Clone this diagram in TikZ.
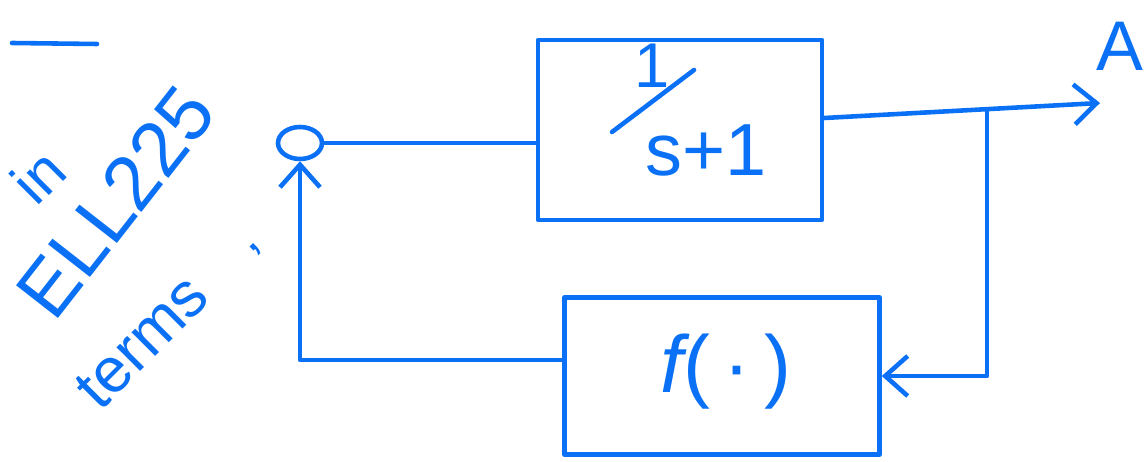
\documentclass[tikz,border=0pt]{standalone}
\usepackage{fontspec}
\setsansfont{Liberation Sans}
\usetikzlibrary{arrows.meta,shapes.geometric}
\definecolor{ink}{RGB}{10,112,245}
\begin{document}
\begin{tikzpicture}[x=0.02cm,y=-0.02cm,
  pen/.style={draw=ink, line width=2.6pt, line cap=round, line join=round},
  blockbox/.style={pen, rectangle, inner sep=0pt},
  hand/.style={text=ink, font=\sffamily\fontsize{#1}{#1}\selectfont, inner sep=0pt},
  hand/.default=36,
  barb/.style={-{Straight Barb[length=0.45cm,width=0.8cm,line width=2.6pt]}}
]
\useasboundingbox (0,0) rectangle (1148,462);

% stray stroke at the top left
\draw[pen] (12,43) -- (97,44);

% slanted note on the left
\node[hand=34, rotate=45] (noteIn) at (38,176) {in};
\node[hand=44, rotate=52] (noteCourse) at (116,202) {ELL225};
\node[hand=36, rotate=45] (noteTerms) at (142,342) {terms};
\node[hand=30, rotate=45] (noteComma) at (256,250) {,};

% summing junction
\node[pen, ellipse, minimum width=0.88cm, minimum height=0.64cm, inner sep=0pt] (sum) at (300,143) {};

% forward block 1/(s+1)
\node[blockbox, minimum width=5.68cm, minimum height=3.6cm] (plant) at (680,130) {};
\node[hand=36] (num) at (652,66) {1};
\draw[pen] (612,132) -- (694,70);
\node[hand=42] (den) at (706,150) {s+1};

% feedback block f(.)
\node[blockbox, minimum width=6.3cm, minimum height=3.14cm] (fb) at (722,376) {};
\node[hand=46] (fbl) at (726,372) {\itshape f\upshape(\,·\,)};

% output label
\node[hand=40] (outA) at (1120,46) {A};

% signal paths
\coordinate (out) at (1100,103);
\coordinate (branch) at (987,110);
\draw[pen] (sum.east) -- (sum.east -| plant.west);
\draw[pen, barb] ([yshift=0.24cm]plant.east) -- (out);
\draw[pen, barb] (branch) |- (fb.east);
\draw[pen, barb] ([yshift=0.32cm]fb.west) -| (sum.south);
\end{tikzpicture}
\end{document}
